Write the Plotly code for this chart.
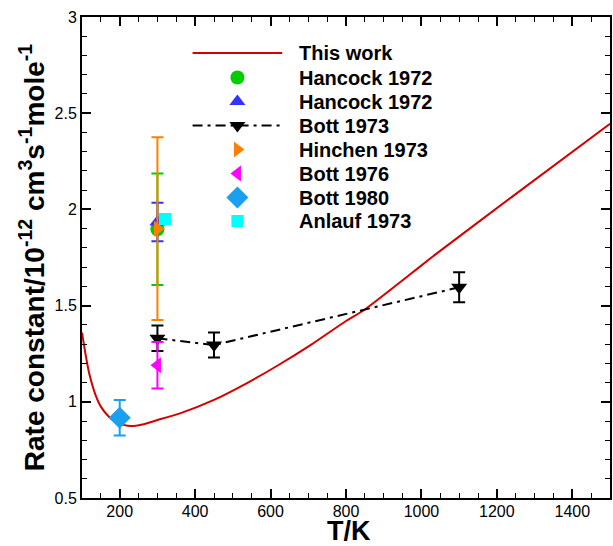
import plotly.graph_objects as go

# ---- data ----
T_work = [100, 110, 120, 135, 150, 170, 190, 210, 230, 260, 300, 360, 450, 540, 620, 710, 800, 850, 1040, 1240, 1500]
k_work = [1.36, 1.24, 1.14, 1.04, 0.975, 0.925, 0.895, 0.88, 0.874, 0.882, 0.905, 0.94, 1.01, 1.10, 1.19, 1.30, 1.42, 1.48, 1.77, 2.065, 2.445]

hancock_c_T, hancock_c_k, hancock_c_err = [300], [1.897], [0.29]
hancock_t_T, hancock_t_k, hancock_t_err = [300], [1.935], [0.10]
bott73_T, bott73_k, bott73_err = [300, 450, 1100], [1.33, 1.295, 1.595], [0.066, 0.065, 0.078]
hinchen_T, hinchen_k, hinchen_err = [300], [1.90], [0.475]
bott76_T, bott76_k, bott76_err = [300], [1.19], [0.121]
bott80_T, bott80_k, bott80_err = [200], [0.917], [0.092]
anlauf_T, anlauf_k = [320], [1.95]

legend_labels = ["This work", "Hancock 1972", "Hancock 1972", "Bott 1973",
                 "Hinchen 1973", "Bott 1976", "Bott 1980", "Anlauf 1973"]

x_ticks = [200, 400, 600, 800, 1000, 1200, 1400]
y_ticks = [0.5, 1, 1.5, 2, 2.5, 3]

# ---- style ----
RED = "#D40000"
GREEN = "#00CC00"
BLUE = "#3333FF"
ORANGE = "#FF8000"
MAGENTA = "#FF00FF"
DBLUE = "#19A0F0"
CYAN = "#00FFFF"
FONT = "Arial, Liberation Sans, sans-serif"
DASH = "10px,5px,3px,5px"

fig = go.Figure()

fig.add_trace(go.Scatter(x=T_work, y=k_work, mode="lines", line=dict(color=RED, width=2, shape="spline", smoothing=0.6)))

def eb(err, color):
    return dict(type="data", array=err, visible=True, color=color, thickness=2, width=6)

fig.add_trace(go.Scatter(x=hancock_c_T, y=hancock_c_k, mode="markers",
                         marker=dict(symbol="circle", size=14, color=GREEN),
                         error_y=eb(hancock_c_err, GREEN)))
fig.add_trace(go.Scatter(x=hancock_t_T, y=hancock_t_k, mode="markers",
                         marker=dict(symbol="triangle-up", size=14, color=BLUE),
                         error_y=eb(hancock_t_err, BLUE)))
fig.add_trace(go.Scatter(x=bott73_T, y=bott73_k, mode="lines+markers",
                         line=dict(color="black", width=2, dash=DASH),
                         marker=dict(symbol="triangle-down", size=14, color="black"),
                         error_y=eb(bott73_err, "black")))
fig.add_trace(go.Scatter(x=hinchen_T, y=hinchen_k, mode="markers",
                         marker=dict(symbol="triangle-right", size=14, color=ORANGE),
                         error_y=eb(hinchen_err, ORANGE)))
fig.add_trace(go.Scatter(x=bott76_T, y=bott76_k, mode="markers",
                         marker=dict(symbol="triangle-left", size=14, color=MAGENTA),
                         error_y=eb(bott76_err, MAGENTA)))
fig.add_trace(go.Scatter(x=bott80_T, y=bott80_k, mode="markers",
                         marker=dict(symbol="diamond", size=17, color=DBLUE),
                         error_y=eb(bott80_err, DBLUE)))
fig.add_trace(go.Scatter(x=anlauf_T, y=anlauf_k, mode="markers",
                         marker=dict(symbol="square", size=12, color=CYAN)))

# ---- custom legend (pixel coordinates inside plot area, on overlay axes) ----
row_y = [36, 60.5, 84.5, 108.5, 132.5, 156.5, 180.5, 204]
lx0, lx1, lxm, ltx = 111, 201, 156, 216
leg_specs = [
    ("line", RED, None, 0),
    ("marker", GREEN, "circle", 14),
    ("marker", BLUE, "triangle-up", 14),
    ("both", "black", "triangle-down", 14),
    ("marker", ORANGE, "triangle-right", 14),
    ("marker", MAGENTA, "triangle-left", 14),
    ("marker", DBLUE, "diamond", 17),
    ("marker", CYAN, "square", 12),
]
for (kind, col, sym, sz), yy, lab in zip(leg_specs, row_y, legend_labels):
    if kind in ("line", "both"):
        fig.add_trace(go.Scatter(x=[lx0, lx1], y=[yy, yy], mode="lines", xaxis="x2", yaxis="y2",
                                 line=dict(color=col, width=2, dash=None if kind == "line" else DASH)))
    if kind in ("marker", "both"):
        fig.add_trace(go.Scatter(x=[lxm], y=[yy], mode="markers", xaxis="x2", yaxis="y2",
                                 marker=dict(symbol=sym, size=sz, color=col)))
    fig.add_annotation(x=ltx, y=yy, xref="x2", yref="y2", text=lab, showarrow=False,
                       xanchor="left", yanchor="middle",
                       font=dict(family=FONT, size=20, color="black", weight="bold"))

# x-axis title as annotation (placed just below the tick labels)
fig.add_annotation(x=0.505, y=-0.069, xref="paper", yref="paper", yanchor="middle", text="T/K",
                   showarrow=False, borderpad=0,
                   font=dict(family=FONT, size=27, color="black", weight="bold"))

axis_common = dict(showline=True, linecolor="black", linewidth=2, mirror="ticks",
                   ticks="inside", ticklen=9, tickwidth=2, tickcolor="black",
                   showgrid=False, zeroline=False,
                   tickfont=dict(family=FONT, size=16, color="black"))

fig.update_layout(
    width=613, height=546,
    margin=dict(l=82, r=1, t=17, b=48),
    plot_bgcolor="white", paper_bgcolor="white",
    showlegend=False,
    xaxis=dict(range=[100, 1500], tickvals=x_ticks, ticklabelstandoff=-2,
               minor=dict(dtick=50, ticks="inside", ticklen=5, tickwidth=1, tickcolor="black"),
               **axis_common),
    yaxis=dict(range=[0.5, 3], tickvals=y_ticks, ticktext=["0.5", "1", "1.5", "2", "2.5", "3"],
               minor=dict(dtick=0.1, ticks="inside", ticklen=5, tickwidth=1, tickcolor="black"),
               title=dict(text="Rate constant/10<sup>-12</sup> cm<sup>3</sup>s<sup>-1</sup>mole<sup>-1</sup>",
                          font=dict(family=FONT, size=28, color="black", weight="bold"), standoff=2),
               **axis_common),
    xaxis2=dict(range=[0, 530], overlaying="x", visible=False, domain=[0, 1]),
    yaxis2=dict(range=[481, 0], overlaying="y", visible=False),
)

fig.write_html("out.html")
